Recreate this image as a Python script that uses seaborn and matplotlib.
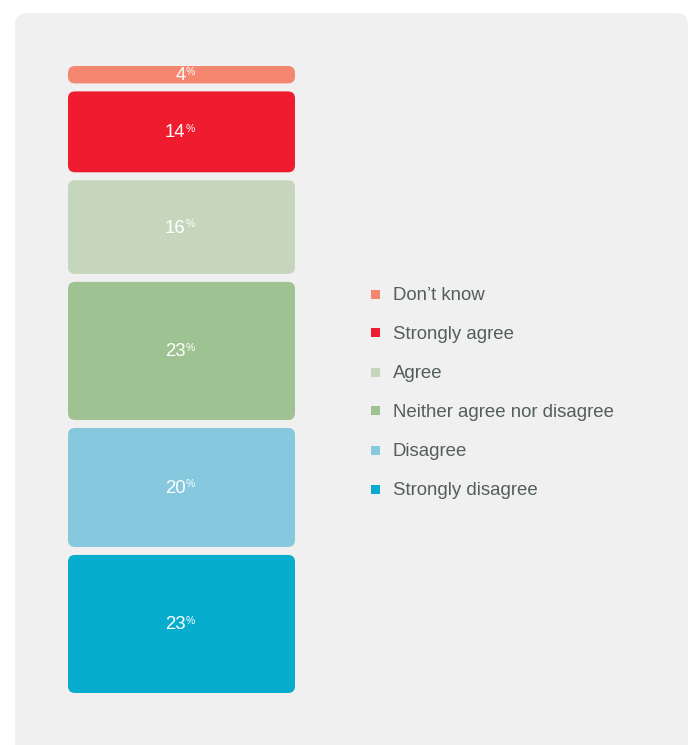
import matplotlib
matplotlib.use("Agg")
import matplotlib.pyplot as plt
from matplotlib.patches import FancyBboxPatch, Rectangle
import seaborn as sns

# Survey answers, listed from the top of the stack to the bottom
categories = ["Don’t know", "Strongly agree", "Agree",
              "Neither agree nor disagree", "Disagree", "Strongly disagree"]
values = [4, 14, 16, 23, 20, 23]
colors = ["#f5866f", "#ee1c2e", "#c5d6bc", "#9ec291", "#86c8de", "#08adcd"]

sns.set_theme(style="white")
plt.rcParams["font.family"] = ["Liberation Sans", "DejaVu Sans"]

W, H = 692, 745
fig = plt.figure(figsize=(W / 100, H / 100), dpi=100)
fig.patch.set_facecolor("white")

# light grey card behind the chart (runs off the bottom edge)
card = FancyBboxPatch((0.15, -0.3), 6.73, 7.62,
                      boxstyle="round,pad=0,rounding_size=0.12",
                      transform=fig.dpi_scale_trans,
                      facecolor="#eff0ef", edgecolor="none", zorder=0)
fig.add_artist(card)

# axes hosting the single stacked column
ax_left, ax_top, ax_w, ax_h = 68, 62, 227, 635   # pixels
ax = fig.add_axes([ax_left / W, 1 - (ax_top + ax_h) / H, ax_w / W, ax_h / H])
ax.set_facecolor("none")

px_per_unit = ax_h / 100.0
gap = 8 / px_per_unit

# stack from bottom upwards
bottoms = {}
running = 0.0
for cat, val in zip(reversed(categories), reversed(values)):
    bottoms[cat] = running
    running += val

for cat, val, col in zip(categories, values, colors):
    sns.barplot(x=[0], y=[val - gap], bottom=bottoms[cat] + gap / 2,
                color=col, saturation=1, width=1, ax=ax, native_scale=True,
                linewidth=0)

ax.set_xlim(-0.5, 0.5)
ax.set_ylim(0, 100)

# swap the plain rectangles for rounded ones
radius_px = 7
x_units_per_px = 1.0 / ax_w
y_units_per_px = 1.0 / px_per_unit
for p in list(ax.patches):
    x, y = p.get_x(), p.get_y()
    w, h = p.get_width(), p.get_height()
    fc = p.get_facecolor()
    p.remove()
    ax.add_patch(FancyBboxPatch(
        (x, y), w, h,
        boxstyle=f"round,pad=0,rounding_size={radius_px * x_units_per_px}",
        mutation_aspect=y_units_per_px / x_units_per_px,
        facecolor=fc, edgecolor="none", zorder=2))

# value labels with a small raised percent sign
for cat, val in zip(categories, values):
    yc = bottoms[cat] + val / 2
    ax.annotate(f"{val}", xy=(0, yc), xytext=(4, -1), textcoords="offset pixels",
                ha="right", va="center", color="white", fontsize=13.4, zorder=3)
    ax.annotate("%", xy=(0, yc), xytext=(4, 3), textcoords="offset pixels",
                ha="left", va="center", color="white", fontsize=7.5, zorder=3)

ax.axis("off")

# legend on the right
row_y = [294, 333, 372, 411, 450, 489]
for cat, col, yy in zip(categories, colors, row_y):
    fig.add_artist(Rectangle((371 / W, 1 - (yy + 4.5) / H), 9 / W, 9 / H,
                             transform=fig.transFigure, facecolor=col,
                             edgecolor="none", zorder=3))
    fig.text(393 / W, 1 - (yy + 1.5) / H, cat, ha="left", va="center",
             fontsize=13.4, color="#545e5b", zorder=3)

fig.savefig("out.png", dpi=100, facecolor="white")
